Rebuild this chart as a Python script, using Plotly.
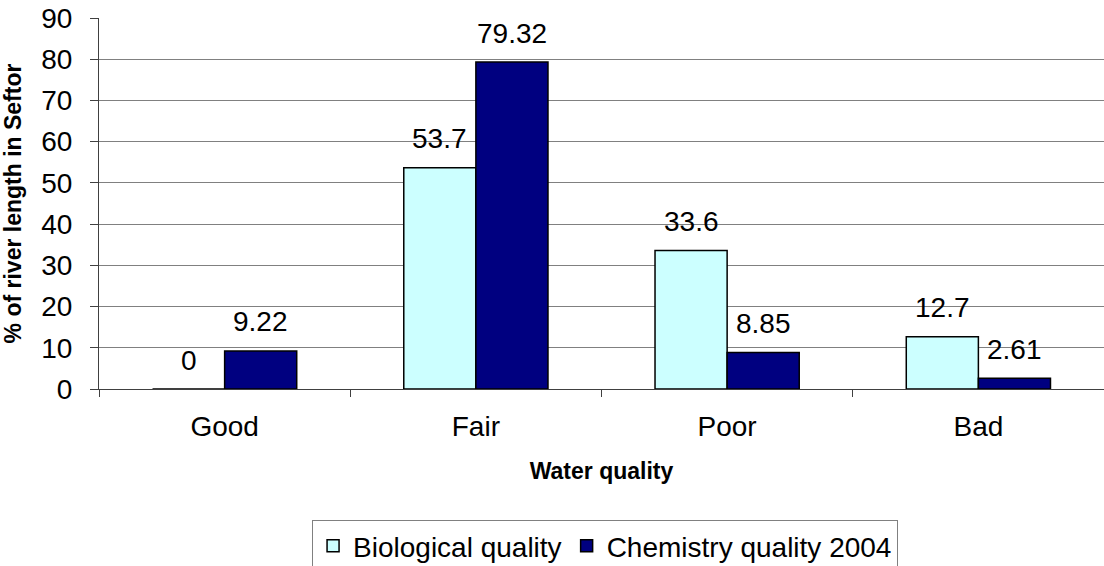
import plotly.graph_objects as go

categories = ["Good", "Fair", "Poor", "Bad"]
biological = [0, 53.7, 33.6, 12.7]
chemistry = [9.22, 79.32, 8.85, 2.61]
bio_labels = ["0", "53.7", "33.6", "12.7"]
chem_labels = ["9.22", "79.32", "8.85", "2.61"]
y_ticks = [0, 10, 20, 30, 40, 50, 60, 70, 80, 90]

FONT = "Liberation Sans, Arial, sans-serif"
FS = 28

fig = go.Figure()
fig.add_trace(go.Bar(
    x=categories, y=biological, name="Biological quality",
    marker=dict(color="#CCFFFF", line=dict(color="black", width=1.5)),
))
fig.add_trace(go.Bar(
    x=categories, y=chemistry, name="Chemistry quality 2004",
    marker=dict(color="#000080", line=dict(color="black", width=1.5)),
))

annotations = []
for c, v, t in zip(categories, biological, bio_labels):
    annotations.append(dict(x=c, y=v, text=t, xref="x", yref="y", showarrow=False,
                            xshift=-36, yshift=29, yanchor="middle",
                            font=dict(size=FS, color="black", family=FONT)))
for c, v, t in zip(categories, chemistry, chem_labels):
    annotations.append(dict(x=c, y=v, text=t, xref="x", yref="y", showarrow=False,
                            xshift=36, yshift=29, yanchor="middle",
                            font=dict(size=FS, color="black", family=FONT)))

fig.update_layout(
    width=1104, height=566,
    margin=dict(l=99, r=0, t=18, b=177, autoexpand=False),
    paper_bgcolor="white", plot_bgcolor="white",
    barmode="group", bargap=0.426, bargroupgap=0,
    font=dict(family=FONT, size=FS, color="black"),
    showlegend=True,
    legend=dict(orientation="h", x=0.212, xanchor="left", y=-0.353, yanchor="top",
                bordercolor="#808080", borderwidth=1, bgcolor="white",
                font=dict(size=FS, family=FONT, color="black"),
                itemwidth=30, tracegroupgap=0),
    annotations=annotations,
)
fig.update_xaxes(
    automargin=False,
    showline=True, linecolor="#404040", linewidth=1,
    ticks="outside", tickson="boundaries", ticklen=7, tickcolor="#404040",
    ticklabelstandoff=12,
    tickfont=dict(size=FS, family=FONT, color="black"),
    title=dict(text="<b>Water quality</b>", font=dict(size=23, family=FONT, color="black"), standoff=22),
    showgrid=False,
)
fig.update_yaxes(
    automargin=False,
    range=[0, 90], tickvals=y_ticks,
    showline=True, linecolor="#404040", linewidth=1,
    ticks="outside", ticklen=8, tickcolor="#404040",
    ticklabelstandoff=12,
    tickfont=dict(size=FS, family=FONT, color="black"),
    showgrid=True, gridcolor="#808080", gridwidth=1,
    zeroline=False,
    title=dict(text="<b>% of river length in Seftor</b>", font=dict(size=23, family=FONT, color="black"), standoff=15),
)

fig.write_html("out.html", config={"displayModeBar": False},
               post_script="document.body.style.margin='0';document.body.style.overflow='hidden';")
